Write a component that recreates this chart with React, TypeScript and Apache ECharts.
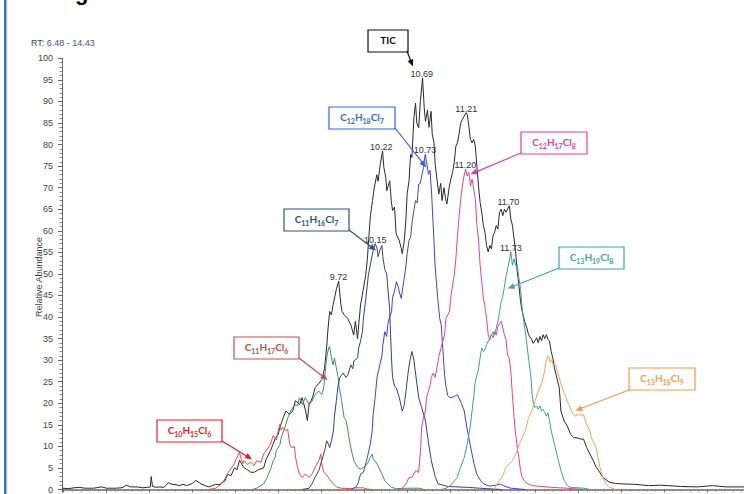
import React, { useEffect, useRef } from "react";
import * as echarts from "echarts";

// ---- axis ranges ----
const rtRange = { min: 6.48, max: 14.43 };
const abundanceRange = { min: 0, max: 100, step: 5 };

// ---- traces: [retention time (min), relative abundance (%)] ----
const ticData: [number, number][] = [
  [6.48, 0.3], [6.56, 0.2], [6.62, 0.4], [6.68, 0.5], [6.75, 0.3], [6.85, 0.3], [6.94, 0.6], [7.0, 0.3],
  [7.1, 0.3], [7.18, 0.4], [7.23, 1.0], [7.28, 0.6], [7.36, 0.6], [7.42, 0.4], [7.48, 0.5], [7.51, 0.6],
  [7.52, 3.0], [7.535, 0.7], [7.58, 0.5], [7.62, 0.6], [7.67, 0.5], [7.72, 1.6], [7.76, 1.2], [7.81, 1.1],
  [7.85, 0.9], [7.89, 1.2], [7.93, 0.9], [7.96, 1.1], [8.0, 1.4], [8.04, 2.1], [8.08, 1.6], [8.1, 1.3],
  [8.15, 0.9], [8.19, 0.6], [8.23, 0.9], [8.27, 1.2], [8.31, 1.1], [8.34, 1.5], [8.38, 2.0], [8.41, 3.5],
  [8.45, 3.2], [8.49, 5.0], [8.52, 4.6], [8.55, 6.8], [8.58, 5.7], [8.6, 5.1], [8.64, 4.6], [8.68, 4.0],
  [8.72, 4.0], [8.77, 4.6], [8.83, 5.0], [8.86, 7.0], [8.91, 9.0], [8.94, 10.5], [8.97, 12.0], [9.0, 12.8],
  [9.02, 14.4], [9.06, 16.7], [9.09, 18.2], [9.13, 17.4], [9.17, 18.2], [9.2, 20.6], [9.25, 19.7], [9.28, 21.3],
  [9.32, 18.2], [9.34, 16.0], [9.36, 19.7], [9.4, 21.3], [9.43, 23.6], [9.47, 24.5], [9.51, 25.5], [9.54, 28.0],
  [9.565, 33.0], [9.58, 37.0], [9.6, 41.3], [9.62, 40.5], [9.64, 42.8], [9.68, 46.6], [9.705, 48.3], [9.73, 43.0],
  [9.745, 41.3], [9.77, 40.5], [9.81, 39.7], [9.85, 38.0], [9.88, 35.8], [9.9, 39.0], [9.925, 35.0], [9.94, 38.5],
  [9.96, 42.8], [9.98, 45.0], [10.02, 49.7], [10.04, 53.5], [10.055, 58.0], [10.075, 63.5], [10.1, 67.0], [10.12, 70.0],
  [10.15, 73.0], [10.165, 71.5], [10.19, 75.4], [10.217, 78.5], [10.232, 74.7], [10.254, 72.4], [10.266, 69.3], [10.3, 71.6],
  [10.318, 67.0], [10.333, 64.7], [10.356, 65.5], [10.375, 59.3], [10.412, 57.7], [10.431, 56.2], [10.446, 54.7], [10.469, 57.5],
  [10.488, 62.3], [10.503, 68.5], [10.525, 71.6], [10.544, 77.7], [10.559, 77.0], [10.582, 86.2], [10.601, 89.6], [10.616, 85.0],
  [10.638, 83.9], [10.657, 90.0], [10.683, 95.4], [10.702, 88.6], [10.717, 85.4], [10.74, 88.0], [10.759, 84.0], [10.782, 87.7],
  [10.796, 82.3], [10.816, 80.5], [10.83, 75.4], [10.853, 71.6], [10.872, 68.5], [10.895, 71.0], [10.91, 67.0], [10.932, 70.0],
  [10.951, 67.5], [10.966, 66.2], [10.996, 70.4], [11.013, 72.0], [11.033, 73.5], [11.052, 75.8], [11.071, 79.6], [11.09, 80.4],
  [11.11, 82.7], [11.128, 85.0], [11.147, 85.8], [11.166, 86.5], [11.19, 87.4], [11.204, 87.0], [11.223, 84.2], [11.241, 81.2],
  [11.26, 80.4], [11.279, 81.2], [11.298, 79.6], [11.316, 75.0], [11.335, 70.4], [11.354, 66.6], [11.373, 64.3], [11.392, 61.2],
  [11.41, 59.7], [11.429, 56.6], [11.448, 55.1], [11.467, 56.6], [11.486, 55.8], [11.505, 58.9], [11.524, 59.7], [11.542, 61.2],
  [11.561, 60.4], [11.58, 64.3], [11.599, 65.0], [11.618, 63.5], [11.637, 65.0], [11.655, 64.3], [11.674, 65.0], [11.695, 65.8],
  [11.712, 62.7], [11.731, 61.2], [11.75, 58.1], [11.768, 55.1], [11.787, 50.5], [11.806, 47.4], [11.825, 43.6], [11.844, 41.3],
  [11.873, 39.0], [11.9, 37.4], [11.918, 35.9], [11.957, 34.7], [11.972, 33.9], [11.994, 34.5], [12.013, 35.2], [12.032, 34.0],
  [12.051, 35.5], [12.07, 34.5], [12.088, 35.9], [12.107, 35.0], [12.126, 35.9], [12.145, 34.8], [12.164, 34.3], [12.183, 32.0],
  [12.201, 30.5], [12.22, 28.2], [12.24, 26.6], [12.277, 23.5], [12.296, 18.2], [12.333, 15.9], [12.371, 14.7], [12.409, 12.8],
  [12.446, 12.0], [12.484, 12.0], [12.522, 11.7], [12.559, 11.7], [12.597, 9.7], [12.635, 8.2], [12.672, 6.7], [12.71, 5.1],
  [12.748, 4.0], [12.785, 2.8], [12.861, 1.7], [12.93, 1.4], [13.011, 1.3], [13.158, 1.2], [13.316, 0.9], [13.46, 1.0],
  [13.542, 0.9], [13.689, 0.7], [13.881, 0.6], [14.062, 0.9], [14.22, 0.6], [14.43, 0.6],
];

const c10h15cl6Data: [number, number][] = [
  [8.19, 0], [8.27, 0.3], [8.34, 1.3], [8.38, 2.5], [8.41, 3.7], [8.49, 6.0], [8.51, 7.1], [8.55, 8.6],
  [8.57, 7.0], [8.59, 6.0], [8.6, 6.7], [8.64, 5.8], [8.68, 6.3], [8.72, 5.6], [8.75, 6.7], [8.8, 6.3],
  [8.83, 8.2], [8.86, 9.0], [8.91, 10.5], [8.94, 12.5], [8.98, 11.5], [9.0, 13.6], [9.02, 15.1], [9.035, 13.8],
  [9.056, 14.4], [9.09, 13.6], [9.11, 14.0], [9.135, 10.5], [9.158, 9.7], [9.19, 10.0], [9.203, 7.4], [9.226, 5.1],
  [9.248, 3.6], [9.282, 2.8], [9.316, 3.6], [9.361, 2.8], [9.395, 3.6], [9.429, 5.1], [9.474, 6.7], [9.497, 8.2],
  [9.508, 5.9], [9.531, 4.0], [9.565, 3.4], [9.599, 2.4], [9.644, 1.3], [9.678, 0.6], [9.734, 0.3], [9.85, 0.2],
  [9.9, 0.4], [9.99, 0.4], [10.04, 0.1], [10.1, 0],
];

const c11h17cl6Data: [number, number][] = [
  [8.7, 0], [8.75, 0.3], [8.83, 1.3], [8.864, 2.5], [8.909, 4.6], [8.943, 6.7], [8.966, 7.5], [8.977, 9.0],
  [9.022, 10.5], [9.034, 12.0], [9.079, 14.4], [9.113, 16.7], [9.147, 18.2], [9.192, 19.7], [9.226, 19.4], [9.248, 21.3],
  [9.282, 19.7], [9.316, 21.3], [9.361, 19.7], [9.395, 20.5], [9.429, 22.0], [9.474, 22.8], [9.508, 22.0], [9.531, 23.6],
  [9.542, 26.0], [9.565, 30.5], [9.587, 32.8], [9.599, 33.2], [9.621, 30.5], [9.64, 28.9], [9.655, 30.5], [9.678, 28.2],
  [9.7, 25.9], [9.712, 23.6], [9.734, 21.3], [9.757, 18.2], [9.768, 16.7], [9.791, 16.0], [9.813, 13.6], [9.825, 12.0],
  [9.847, 9.7], [9.881, 6.7], [9.926, 5.1], [9.96, 4.7], [9.994, 5.1], [10.039, 5.9], [10.073, 7.4], [10.096, 8.2],
  [10.107, 7.0], [10.13, 6.7], [10.164, 5.5], [10.209, 3.6], [10.243, 2.0], [10.277, 1.3], [10.322, 0.5], [10.378, 0.2],
  [10.5, 0.3], [10.64, 0.3], [10.7, 0],
];

const c11h16cl7Data: [number, number][] = [
  [9.28, 0], [9.36, 0.3], [9.395, 1.3], [9.429, 2.8], [9.474, 4.4], [9.508, 6.7], [9.542, 9.0], [9.565, 11.3],
  [9.587, 10.5], [9.599, 9.7], [9.621, 11.3], [9.644, 13.6], [9.655, 16.7], [9.678, 20.6], [9.7, 24.4], [9.72, 26.0],
  [9.757, 27.0], [9.791, 26.0], [9.813, 26.6], [9.847, 28.9], [9.87, 28.0], [9.881, 29.8], [9.926, 30.5], [9.938, 32.8],
  [9.96, 34.4], [9.983, 36.7], [9.994, 39.7], [10.017, 43.5], [10.039, 47.4], [10.051, 49.7], [10.073, 52.0], [10.096, 54.3],
  [10.107, 55.4], [10.13, 57.0], [10.152, 56.0], [10.164, 54.0], [10.186, 55.5], [10.209, 56.6], [10.22, 54.0], [10.243, 51.0],
  [10.265, 50.0], [10.277, 47.0], [10.299, 42.0], [10.31, 36.0], [10.322, 30.0], [10.333, 26.0], [10.356, 24.0], [10.378, 23.5],
  [10.412, 21.3], [10.446, 18.2], [10.469, 19.5], [10.491, 23.0], [10.514, 27.0], [10.536, 30.0], [10.559, 32.0], [10.582, 30.0],
  [10.604, 26.5], [10.638, 21.3], [10.672, 19.0], [10.717, 15.9], [10.751, 11.0], [10.785, 6.7], [10.83, 3.0], [10.864, 1.3],
  [10.977, 0.7], [11.203, 0.5], [11.43, 0.2], [11.6, 0],
];

const c12h18cl7Data: [number, number][] = [
  [9.85, 0], [9.9, 0.5], [9.93, 1.3], [9.96, 3.6], [9.994, 4.0], [10.039, 7.4], [10.073, 10.5], [10.096, 13.6],
  [10.107, 17.4], [10.13, 21.3], [10.152, 26.0], [10.186, 29.0], [10.209, 31.0], [10.22, 33.5], [10.243, 36.6], [10.265, 35.5],
  [10.277, 38.2], [10.299, 40.0], [10.322, 41.2], [10.333, 44.5], [10.356, 46.0], [10.378, 48.2], [10.4, 47.0], [10.412, 45.8],
  [10.435, 44.3], [10.446, 46.0], [10.469, 49.0], [10.488, 51.6], [10.503, 54.7], [10.525, 57.7], [10.544, 58.5], [10.563, 62.3],
  [10.582, 64.7], [10.601, 67.0], [10.62, 66.5], [10.638, 70.8], [10.657, 71.0], [10.676, 73.1], [10.695, 74.7], [10.714, 77.7],
  [10.733, 75.5], [10.751, 73.1], [10.77, 74.0], [10.789, 68.5], [10.8, 63.9], [10.816, 57.7], [10.827, 52.4], [10.845, 47.8],
  [10.864, 43.5], [10.883, 39.7], [10.9, 38.2], [10.921, 32.0], [10.94, 26.6], [10.955, 24.0], [10.977, 21.8], [11.0, 21.3],
  [11.045, 21.5], [11.09, 22.0], [11.135, 20.0], [11.169, 18.2], [11.203, 14.0], [11.237, 10.5], [11.282, 6.0], [11.316, 3.5],
  [11.362, 2.0], [11.395, 1.3], [11.463, 0.8], [11.542, 1.0], [11.587, 1.3], [11.633, 0.8], [11.712, 0.3], [11.88, 0],
];

const c12h17cl8Data: [number, number][] = [
  [10.4, 0], [10.446, 0.3], [10.491, 1.3], [10.525, 2.8], [10.559, 2.8], [10.604, 4.4], [10.638, 4.0], [10.661, 9.7],
  [10.672, 14.4], [10.695, 16.7], [10.717, 18.2], [10.729, 21.3], [10.774, 24.4], [10.785, 26.0], [10.808, 27.0], [10.83, 26.0],
  [10.853, 28.5], [10.875, 31.0], [10.898, 32.8], [10.94, 35.9], [10.955, 39.7], [10.977, 40.5], [10.996, 41.2], [11.015, 45.0],
  [11.033, 47.4], [11.052, 49.7], [11.071, 53.5], [11.09, 58.9], [11.11, 63.5], [11.128, 67.4], [11.147, 70.4], [11.166, 72.7],
  [11.185, 74.3], [11.204, 72.7], [11.223, 73.5], [11.241, 70.4], [11.26, 72.0], [11.279, 69.7], [11.298, 67.4], [11.316, 61.2],
  [11.335, 58.1], [11.354, 52.0], [11.373, 48.2], [11.392, 44.3], [11.41, 42.5], [11.429, 39.7], [11.448, 35.9], [11.467, 34.7],
  [11.486, 36.0], [11.505, 35.2], [11.524, 36.6], [11.542, 35.8], [11.561, 37.8], [11.58, 38.5], [11.599, 39.0], [11.618, 37.5],
  [11.637, 35.9], [11.655, 34.8], [11.674, 31.2], [11.693, 30.5], [11.712, 27.4], [11.73, 22.0], [11.75, 16.7], [11.768, 12.8],
  [11.787, 9.7], [11.806, 7.4], [11.825, 4.4], [11.844, 2.8], [11.881, 1.7], [11.957, 0.9], [12.07, 0.7], [12.183, 0.5],
  [12.37, 0.3], [12.56, 0],
];

const c13h19cl8Data: [number, number][] = [
  [10.9, 0], [10.96, 0.3], [11.011, 1.0], [11.09, 2.8], [11.124, 5.1], [11.169, 7.4], [11.203, 10.5], [11.237, 14.4],
  [11.26, 18.2], [11.282, 22.0], [11.294, 24.5], [11.31, 26.0], [11.33, 27.4], [11.35, 30.0], [11.362, 31.6], [11.373, 32.8],
  [11.395, 32.0], [11.41, 32.5], [11.429, 33.6], [11.467, 35.1], [11.505, 36.6], [11.52, 35.8], [11.542, 37.4], [11.561, 39.0],
  [11.58, 41.2], [11.599, 43.5], [11.618, 44.8], [11.637, 47.0], [11.655, 49.3], [11.674, 51.2], [11.693, 53.0], [11.712, 55.1],
  [11.731, 52.0], [11.75, 53.5], [11.768, 52.0], [11.787, 52.0], [11.806, 49.0], [11.825, 46.6], [11.844, 42.0], [11.862, 39.0],
  [11.881, 36.6], [11.9, 33.5], [11.918, 30.5], [11.938, 27.4], [11.95, 25.1], [11.96, 22.0], [11.978, 19.7], [11.994, 19.0],
  [12.013, 19.4], [12.032, 18.6], [12.051, 19.4], [12.07, 18.2], [12.088, 18.6], [12.107, 17.8], [12.126, 17.0], [12.145, 17.8],
  [12.164, 15.9], [12.183, 13.6], [12.22, 10.5], [12.258, 7.4], [12.296, 4.4], [12.333, 2.1], [12.371, 0.9], [12.409, 0.5],
  [12.559, 0.3], [12.64, 0],
];

const c13h18cl9Data: [number, number][] = [
  [11.52, 0], [11.542, 1.0], [11.58, 2.1], [11.618, 3.2], [11.655, 5.1], [11.693, 5.9], [11.73, 6.7], [11.768, 8.2],
  [11.787, 9.0], [11.806, 10.5], [11.825, 11.0], [11.844, 12.0], [11.881, 13.6], [11.9, 15.1], [11.918, 16.7], [11.957, 18.2],
  [11.994, 20.5], [12.032, 22.8], [12.07, 24.5], [12.1, 27.0], [12.126, 30.0], [12.152, 31.0], [12.171, 29.5], [12.19, 30.2],
  [12.209, 28.6], [12.228, 29.0], [12.254, 27.4], [12.277, 25.9], [12.299, 24.3], [12.311, 23.6], [12.333, 22.4], [12.356, 21.3],
  [12.367, 20.5], [12.39, 19.7], [12.412, 18.6], [12.424, 17.8], [12.446, 17.4], [12.469, 17.0], [12.48, 17.5], [12.503, 17.1],
  [12.525, 17.6], [12.537, 17.1], [12.559, 17.4], [12.582, 15.9], [12.593, 15.2], [12.616, 14.4], [12.638, 13.2], [12.65, 12.0],
  [12.672, 11.2], [12.706, 9.7], [12.729, 7.4], [12.751, 5.1], [12.785, 2.8], [12.819, 1.3], [12.864, 0.5], [12.932, 0],
];

// ---- labelled peaks: [retention time, apex abundance] ----
const ticPeaks: [number, number][] = [[9.72, 48.3], [10.22, 78.5], [10.69, 95.4], [11.21, 87.4], [11.7, 65.8]];
const c11h16cl7Peaks: [number, number][] = [[10.15, 57.0]];
const c12h18cl7Peaks: [number, number][] = [[10.73, 77.7]];
const c12h17cl8Peaks: [number, number][] = [[11.2, 74.3]];
const c13h19cl8Peaks: [number, number][] = [[11.73, 55.1]];

const traces = [
  { name: "TIC", color: "#2a2a2a", data: ticData, peaks: ticPeaks },
  { name: "C10H15Cl6", color: "#ec4a44", data: c10h15cl6Data, peaks: [] as [number, number][] },
  { name: "C11H17Cl6", color: "#3f9266", data: c11h17cl6Data, peaks: [] as [number, number][] },
  { name: "C11H16Cl7", color: "#3b3b8e", data: c11h16cl7Data, peaks: c11h16cl7Peaks },
  { name: "C12H18Cl7", color: "#3e3ef0", data: c12h18cl7Data, peaks: c12h18cl7Peaks },
  { name: "C12H17Cl8", color: "#e6409a", data: c12h17cl8Data, peaks: c12h17cl8Peaks },
  { name: "C13H19Cl8", color: "#3e9e9e", data: c13h19cl8Data, peaks: c13h19cl8Peaks },
  { name: "C13H18Cl9", color: "#f2a458", data: c13h18cl9Data, peaks: [] as [number, number][] },
];

// ---- callout boxes: formula parts [element, count], box colour, target point [RT, abundance] ----
const callouts = [
  { parts: [["TIC", ""]], color: "#111111", box: [368, 30, 40, 22], from: [407, 51], target: [10.57, 98.1] },
  { parts: [["C", "12"], ["H", "18"], ["Cl", "7"]], color: "#3a64e2", box: [329, 107, 66, 22], from: [395, 128], target: [10.725, 74.7] },
  { parts: [["C", "12"], ["H", "17"], ["Cl", "8"]], color: "#e03ca8", box: [521, 132, 66, 22], from: [521, 153], target: [11.24, 73.1] },
  { parts: [["C", "11"], ["H", "16"], ["Cl", "7"]], color: "#2d5085", box: [284, 209, 65, 22], from: [349, 230], target: [10.141, 55.4] },
  { parts: [["C", "11"], ["H", "17"], ["Cl", "6"]], color: "#c0504d", box: [234, 337, 65, 22], from: [299, 358], target: [9.576, 25.4] },
  { parts: [["C", "10"], ["H", "15"], ["Cl", "6"]], color: "#ec1c24", box: [157, 420, 65, 22], from: [222, 441], target: [8.695, 7.0] },
  { parts: [["C", "13"], ["H", "19"], ["Cl", "8"]], color: "#3ea6a6", box: [559, 247, 65, 22], from: [559, 268], target: [11.674, 46.6] },
  { parts: [["C", "13"], ["H", "18"], ["Cl", "9"]], color: "#f39c4e", box: [629, 368, 66, 22], from: [629, 390], target: [12.465, 18.3] },
];

const AX = "Liberation Sans, Arial, sans-serif";

function buildOption() {
  return {
    animation: false,
    backgroundColor: "#ffffff",
    grid: { left: 62, top: 58.3, right: -21.6, bottom: 1.7, containLabel: false },
    xAxis: {
      type: "value",
      min: rtRange.min,
      max: rtRange.max,
      splitNumber: 16,
      axisLine: { show: true, lineStyle: { color: "#74665a", width: 1.5 } },
      axisTick: { show: true, length: 3, lineStyle: { color: "#74665a" } },
      minorTick: { show: true, splitNumber: 5, length: 2, lineStyle: { color: "#8a7c70" } },
      axisLabel: { show: false },
      splitLine: { show: false },
    },
    yAxis: {
      type: "value",
      min: abundanceRange.min,
      max: abundanceRange.max,
      interval: abundanceRange.step,
      axisLine: { show: true, lineStyle: { color: "#666666", width: 1 } },
      axisTick: { show: true, length: 4, lineStyle: { color: "#666666" } },
      minorTick: { show: true, splitNumber: 5, length: 2.5, lineStyle: { color: "#888888" } },
      axisLabel: { fontSize: 9, color: "#444444", fontFamily: AX, margin: 9 },
      splitLine: { show: false },
    },
    series: traces.map((t, i) => ({
      type: "line",
      name: t.name,
      data: t.data,
      showSymbol: false,
      symbol: "none",
      silent: true,
      z: 2 + i,
      lineStyle: { color: t.color, width: 1 },
      itemStyle: { color: t.color },
      markPoint: t.peaks.length
        ? {
            symbol: "circle",
            symbolSize: 1,
            itemStyle: { color: "rgba(0,0,0,0)" },
            silent: true,
            label: {
              show: true,
              position: "top",
              distance: -1,
              offset: [-1.5, 0],
              fontSize: 9,
              fontFamily: AX,
              color: "#333333",
              formatter: (p: any) => p.name,
            },
            data: t.peaks.map((p) => ({ name: p[0].toFixed(2), coord: [p[0], p[1]] })),
          }
        : undefined,
    })),
  };
}

function formulaText(parts: string[][]) {
  return parts.map(([el, n]) => `{m|${el}}` + (n ? `{s|${n}}` : "")).join("");
}

function buildGraphic(chart: any) {
  const g: any[] = [];
  // left page border
  g.push({ type: "rect", z: 100, shape: { x: 4, y: 0, width: 2.5, height: 494 }, style: { fill: "#3272c4" } });
  // clipped heading glyph at the very top
  g.push({
    type: "text", z: 100, x: 75, y: -8,
    style: { text: "g", fontSize: 22, fontWeight: "bold", fontFamily: AX, fill: "#000000", align: "left", verticalAlign: "middle" },
  });
  // RT range caption
  g.push({
    type: "text", z: 100, x: 31, y: 43,
    style: {
      text: `{a|RT:}{b| ${rtRange.min.toFixed(2)} - ${rtRange.max.toFixed(2)}}`,
      align: "left", verticalAlign: "middle",
      rich: {
        a: { fontSize: 9, fontFamily: AX, fill: "#444444" },
        b: { fontSize: 9, fontFamily: AX, fill: "#4e4e8c" },
      },
    },
  });
  // y axis title
  g.push({
    type: "text", z: 100, x: 38.5, y: 277, rotation: Math.PI / 2,
    style: { text: "Relative Abundance", fontSize: 9, fontFamily: AX, fill: "#444444", align: "center", verticalAlign: "middle" },
  });

  callouts.forEach((c) => {
    const [bx, by, bw, bh] = c.box;
    g.push({ type: "rect", z: 100, shape: { x: bx, y: by, width: bw, height: bh }, style: { fill: "#ffffff", stroke: c.color, lineWidth: 1.2 } });
    g.push({
      type: "text", z: 101, x: bx + bw / 2, y: by + bh / 2,
      style: {
        text: formulaText(c.parts),
        align: "center", verticalAlign: "middle",
        rich: {
          m: { fontSize: 10, fontWeight: "bold", fontFamily: "Lato, Open Sans, sans-serif", fill: c.color, lineHeight: 12, verticalAlign: "top" },
          s: { fontSize: 7, fontWeight: "bold", fontFamily: "Lato, Open Sans, sans-serif", fill: c.color, lineHeight: 9, padding: [5, 0, 0, 0], verticalAlign: "bottom" },
        },
      },
    });
    const tip = chart.convertToPixel({ xAxisIndex: 0, yAxisIndex: 0 }, c.target) as number[];
    const [sx, sy] = c.from;
    const dx = tip[0] - sx, dy = tip[1] - sy;
    const len = Math.sqrt(dx * dx + dy * dy);
    const ux = dx / len, uy = dy / len;
    const nx = -uy, ny = ux;
    const head = 7, half = 3;
    const bxp = tip[0] - ux * head, byp = tip[1] - uy * head;
    g.push({ type: "line", z: 100, shape: { x1: sx, y1: sy, x2: bxp + ux * 2, y2: byp + uy * 2 }, style: { stroke: c.color, lineWidth: 1.2 } });
    g.push({
      type: "polygon", z: 100,
      shape: { points: [[tip[0], tip[1]], [bxp + nx * half, byp + ny * half], [bxp - nx * half, byp - ny * half]] },
      style: { fill: c.color },
    });
  });
  return g;
}

export default function App() {
  const ref = useRef<HTMLDivElement>(null);
  useEffect(() => {
    if (!ref.current) return;
    const chart = echarts.init(ref.current, undefined, { renderer: "svg", width: 744, height: 494 });
    chart.setOption(buildOption() as any);
    chart.setOption({ graphic: buildGraphic(chart) } as any);
    return () => chart.dispose();
  }, []);
  return (
    <div
      ref={ref}
      style={{ position: "fixed", left: 0, top: 0, width: 744, height: 494, background: "#ffffff", overflow: "hidden" }}
    />
  );
}
